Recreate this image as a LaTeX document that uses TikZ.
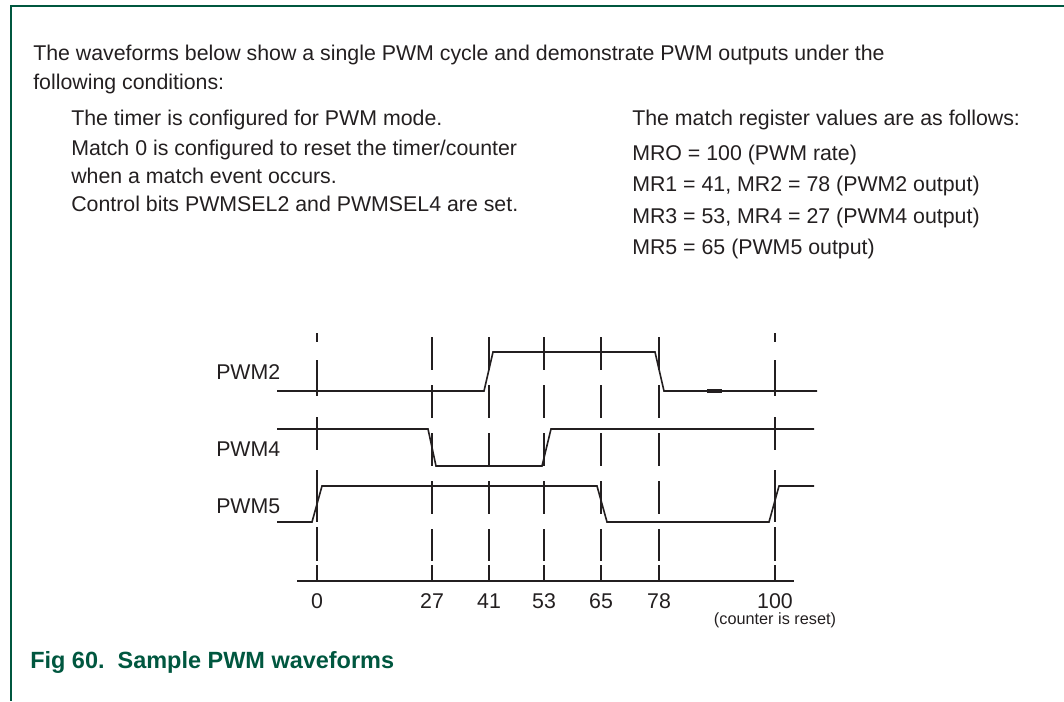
\documentclass[tikz,border=0pt]{standalone}
\usepackage{fontspec}
\setmainfont{Liberation Sans}
\definecolor{nxpgreen}{HTML}{00573F}
\definecolor{ink}{HTML}{231F20}
\begin{document}
\begin{tikzpicture}[x=0.75pt,y=-0.75pt,
  txt/.style={inner sep=0pt, anchor=base west, text=ink, font=\fontsize{16}{19}\selectfont},
  lbl/.style={inner sep=0pt, anchor=base, text=ink, font=\fontsize{16}{19}\selectfont},
  small/.style={inner sep=0pt, anchor=base, text=ink, font=\fontsize{12.2}{14}\selectfont},
  wave/.style={ink, line width=1.2pt, line join=miter},
  vline/.style={ink, line width=1.3pt},
  axisline/.style={ink, line width=1.3pt},
  frameline/.style={nxpgreen, line width=1.3pt},
  caption/.style={inner sep=0pt, anchor=base west, text=nxpgreen, font=\bfseries\fontsize{17.6}{21}\selectfont}]
\useasboundingbox (0,0) rectangle (1064,701);
% frame
\draw[frameline] (1064,6) -- (11,6) -- (11,701);
% intro text
\node[txt] (t1) at (33,60.5) {The waveforms below show a single PWM cycle and demonstrate PWM outputs under the};
\node[txt] (t2) at (33,89) {following conditions:};
\node[txt] (c1) at (71,125) {The timer is configured for PWM mode.};
\node[txt] (c2) at (71,155) {Match 0 is configured to reset the timer/counter};
\node[txt] (c3) at (71,183) {when a match event occurs.};
\node[txt] (c4) at (71,211) {Control bits PWMSEL2 and PWMSEL4 are set.};
\node[txt] (r0) at (632,125) {The match register values are as follows:};
\node[txt] (r1) at (632,160) {MRO = 100 (PWM rate)};
\node[txt] (r2) at (632,191.5) {MR1 = 41, MR2 = 78 (PWM2 output)};
\node[txt] (r3) at (632,223) {MR3 = 53, MR4 = 27 (PWM4 output)};
\node[txt] (r4) at (632,254.5) {MR5 = 65 (PWM5 output)};
% signal labels
\node[txt] (l2) at (216,379.5) {PWM2};
\node[txt] (l4) at (216,456) {PWM4};
\node[txt] (l5) at (216,513.5) {PWM5};
% dashed vertical lines
\foreach \x in {317,775}
  \foreach \a/\b in {333/342,360/396,417/450,470/522,527/561,565/581}
    \draw[vline] (\x,\a) -- (\x,\b);
\foreach \x in {432,489,544,601,659}
  \foreach \a/\b in {337/370,385/418,433/466,481/514,529/561,565/581}
    \draw[vline] (\x,\a) -- (\x,\b);
% axis
\draw[axisline] (297,581) -- (794,581);
\foreach \x/\t in {317/0,432/27,489/41,544/53,601/65,659/78,775/100}
  \node[lbl] (n\t) at (\x,608) {\t};
\node[small] (reset) at (775,624) {(counter is reset)};
% waveforms
\draw[wave] (277,391) -- (484,391) -- (493,352) -- (655,352) -- (664,391) -- (817,391);
\draw[ink, line width=2.4pt] (707,391) -- (722,391);
\draw[wave] (277,429) -- (428,429) -- (436,466) -- (542,466) -- (551,429) -- (814,429);
\draw[wave] (277,522) -- (312,522) -- (322,486) -- (597,486) -- (607,522) -- (769,522) -- (779,486) -- (814,486);
% caption
\node[caption] (cap) at (30,668) {Fig 60.\ \ Sample PWM waveforms};
\end{tikzpicture}
\end{document}
